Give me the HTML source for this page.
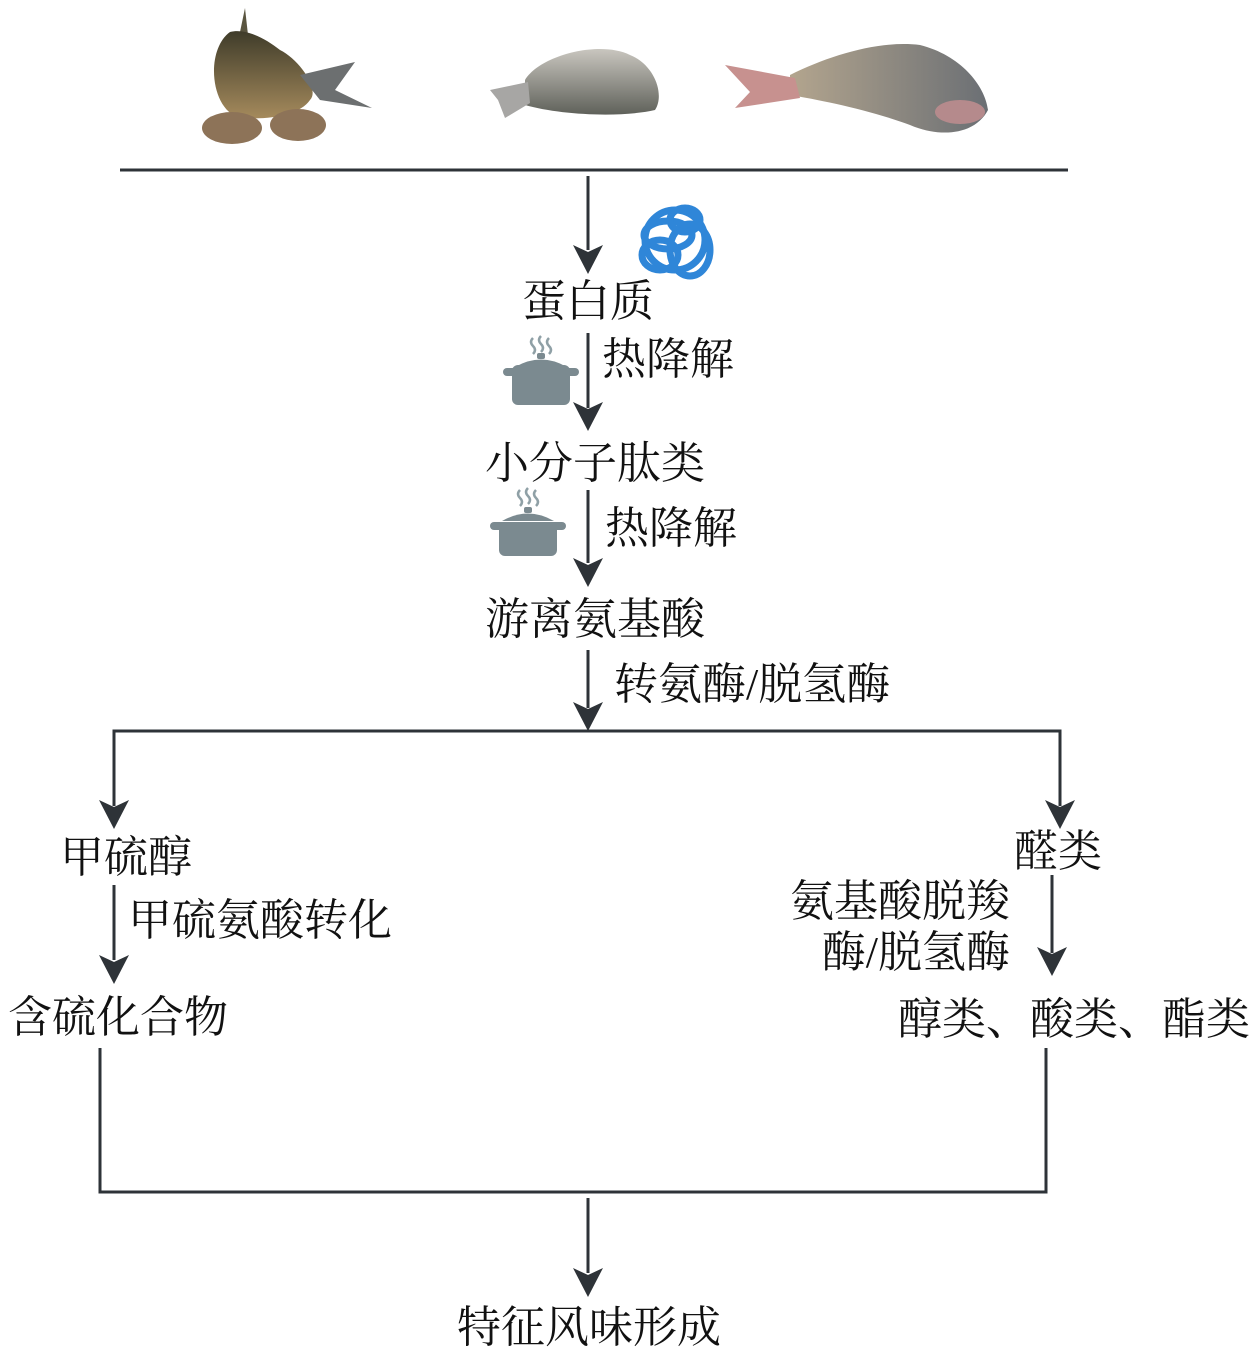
<!DOCTYPE html>
<html><head><meta charset="utf-8"><style>
html,body{margin:0;padding:0;background:#fff;}
svg{display:block}
text{font-family:"Liberation Serif","Noto Serif CJK SC",serif;fill:#111;}
</style></head><body>
<svg width="1260" height="1354" viewBox="0 0 1260 1354" xmlns="http://www.w3.org/2000/svg">
<defs>
<linearGradient id="f1" x1="0" y1="0" x2="0" y2="1"><stop offset="0" stop-color="#3f3c2a"/><stop offset="1" stop-color="#a58a5c"/></linearGradient>
<linearGradient id="f2" x1="0" y1="0" x2="0" y2="1"><stop offset="0" stop-color="#c9c6bf"/><stop offset="1" stop-color="#5f615a"/></linearGradient>
<linearGradient id="f3" x1="0" y1="0" x2="1" y2="0"><stop offset="0" stop-color="#b3a58e"/><stop offset="1" stop-color="#6b6f74"/></linearGradient>
</defs>
<g stroke="#2e3338" stroke-width="3" fill="none">
<line x1="120" y1="170" x2="1068" y2="170"/>
<line x1="588" y1="176" x2="588" y2="250"/>
<line x1="588" y1="333" x2="588" y2="408"/>
<line x1="588" y1="490" x2="588" y2="563"/>
<line x1="588" y1="650" x2="588" y2="708"/>
<polyline points="114,806 114,731 1060,731 1060,806"/>
<line x1="114" y1="885" x2="114" y2="960"/>
<line x1="1052" y1="875" x2="1052" y2="953"/>
<polyline points="100,1048 100,1192 1046,1192 1046,1048"/>
<line x1="588" y1="1198" x2="588" y2="1273"/>
</g>
<g fill="#2e3338">
<path d="M573,245 L588,274 L603,245 L588,252Z"/>
<path d="M573,402 L588,431 L603,402 L588,409Z"/>
<path d="M573,558 L588,587 L603,558 L588,565Z"/>
<path d="M573,702 L588,731 L603,702 L588,709Z"/>
<path d="M99,800 L114,829 L129,800 L114,807Z"/>
<path d="M1045,800 L1060,829 L1075,800 L1060,807Z"/>
<path d="M99,955 L114,984 L129,955 L114,962Z"/>
<path d="M1037,947 L1052,976 L1067,947 L1052,954Z"/>
<path d="M573,1268 L588,1297 L603,1268 L588,1275Z"/>
</g>
<g>
<path d="M245,8 L248,35 L240,32Z" fill="#5a5540"/>
<path d="M230,32 C205,50 210,110 240,118 C270,120 300,115 310,100 C320,90 300,60 280,50 C265,38 245,28 230,32Z" fill="url(#f1)"/>
<path d="M300,75 L355,62 L335,90 L372,108 L320,100Z" fill="#6c6f70"/>
<ellipse cx="232" cy="128" rx="30" ry="16" fill="#8d7358"/>
<ellipse cx="298" cy="125" rx="28" ry="16" fill="#8d7358"/>
</g>
<g>
<path d="M525,80 C540,55 600,40 630,55 C655,65 665,95 655,110 C620,118 560,115 525,105Z" fill="url(#f2)"/>
<path d="M528,82 L490,90 L498,100 L505,118 L530,103Z" fill="#a7a6a4"/>
</g>
<g>
<path d="M790,75 C830,55 880,40 920,45 C960,55 985,85 988,110 C975,135 940,138 910,125 C870,110 820,100 790,95Z" fill="url(#f3)"/>
<path d="M795,78 L725,65 L750,92 L735,108 L800,98Z" fill="#c7918f"/>
<ellipse cx="960" cy="112" rx="25" ry="12" fill="#b58a8c"/>
</g>
<g fill="none" stroke="#2f86d8" stroke-width="7">
<circle cx="675" cy="240" r="30"/>
<ellipse cx="668" cy="235" rx="24" ry="14"/>
<ellipse cx="690" cy="250" rx="20" ry="26"/>
<ellipse cx="660" cy="255" rx="18" ry="15"/>
<ellipse cx="685" cy="220" rx="15" ry="12"/>
</g>
<g fill="#7b8a90">
<rect x="512" y="365" width="58" height="40" rx="6"/>
<rect x="503" y="368" width="76" height="8" rx="4"/>
<path d="M515,367 Q541,352 567,367Z"/>
<rect x="537" y="353" width="8" height="6" rx="2"/>
<rect x="499" y="522" width="58" height="34" rx="6"/>
<rect x="490" y="522" width="76" height="8" rx="4"/>
<path d="M502,521 Q528,506 554,521Z"/>
<rect x="524" y="507" width="8" height="6" rx="2"/>
</g>
<g fill="none" stroke="#8fa0a6" stroke-width="2.5">
<path d="M533,338 q-4,4 0,8 q4,4 0,8"/><path d="M541,336 q-4,4 0,8 q4,4 0,8"/><path d="M549,338 q-4,4 0,8 q4,4 0,8"/>
<path d="M520,490 q-4,4 0,8 q4,4 0,8"/><path d="M528,488 q-4,4 0,8 q4,4 0,8"/><path d="M536,490 q-4,4 0,8 q4,4 0,8"/>
</g>
<g font-size="44">
<text x="588" y="316" text-anchor="middle">蛋白质</text>
<text x="602" y="374">热降解</text>
<text x="485" y="478">小分子肽类</text>
<text x="605" y="543">热降解</text>
<text x="485" y="634">游离氨基酸</text>
<text x="614" y="699">转氨酶/脱氢酶</text>
<text x="60" y="872">甲硫醇</text>
<text x="128" y="935">甲硫氨酸转化</text>
<text x="8" y="1032">含硫化合物</text>
<text x="1014" y="866">醛类</text>
<text x="1010" y="916" text-anchor="end">氨基酸脱羧</text>
<text x="1010" y="967" text-anchor="end">酶/脱氢酶</text>
<text x="898" y="1034">醇类、酸类、酯类</text>
<text x="457" y="1342">特征风味形成</text>
</g>
</svg>
</body></html>
